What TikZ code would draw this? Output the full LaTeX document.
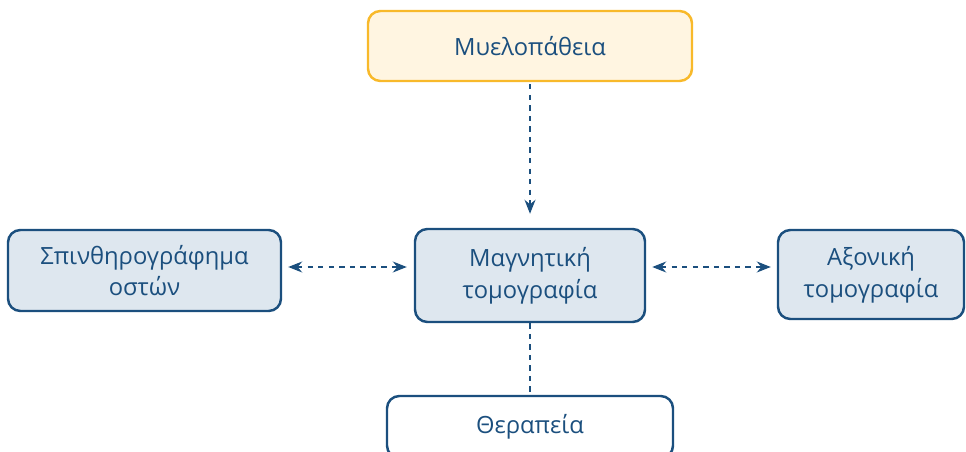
\documentclass[tikz,border=0pt]{standalone}
\usepackage{fontspec}
\setmainfont{Open Sans}
\usepackage{tikz}
\usetikzlibrary{arrows.meta, positioning, calc}
\definecolor{navy}{HTML}{1B4F7E}
\definecolor{boxfill}{HTML}{DEE7EF}
\definecolor{amber}{HTML}{F8B92A}
\definecolor{cream}{HTML}{FFF5E1}

\begin{document}
\begin{tikzpicture}[
  exam/.style={rectangle, draw=navy, fill=boxfill, line width=1.4pt, rounded corners=7pt, align=center, text=navy, font=\fontsize{13.5}{18}\selectfont},
  topic/.style={exam, draw=amber, fill=cream},
  outcome/.style={exam, fill=white},
  link/.style={dashed, draw=navy, line width=0.8pt},
  arrow/.style={link, -{Stealth[length=2.8mm, width=2.2mm]}},
  biarrow/.style={link, {Stealth[length=2.8mm, width=2.2mm]}-{Stealth[length=2.8mm, width=2.2mm]}}
]
\useasboundingbox (0,0) rectangle (19.32,-9.04);

% Condition
\node[topic, minimum width=6.48cm, minimum height=1.4cm] (myelo) at (10.6,-0.92) {Μυελοπάθεια};

% Imaging
\node[exam, minimum width=5.46cm, minimum height=1.62cm] (scan) at (2.89,-5.41) {Σπινθηρογράφημα\\οστών};
\node[exam, minimum width=4.6cm, minimum height=1.86cm] (mri) at (10.6,-5.51) {Μαγνητική\\τομογραφία};
\node[exam, minimum width=3.72cm, minimum height=1.78cm] (ct) at (17.42,-5.49) {Αξονική\\τομογραφία};

% Outcome
\node[outcome, minimum width=5.72cm, minimum height=1.24cm] (therapy) at (10.6,-8.54) {Θεραπεία};

\draw[arrow, shorten <=0.04cm, shorten >=0.28cm] (myelo) -- (mri);
\draw[biarrow, shorten <=0.12cm, shorten >=0.14cm] ([yshift=0.07cm]scan.east) -- ([yshift=0.07cm]scan.east -| mri.west);
\draw[biarrow, shorten <=0.12cm, shorten >=0.12cm] ([yshift=0.17cm]mri.east) -- ([yshift=0.17cm]mri.east -| ct.west);
\draw[link] (mri) -- (therapy);

\end{tikzpicture}
\end{document}
